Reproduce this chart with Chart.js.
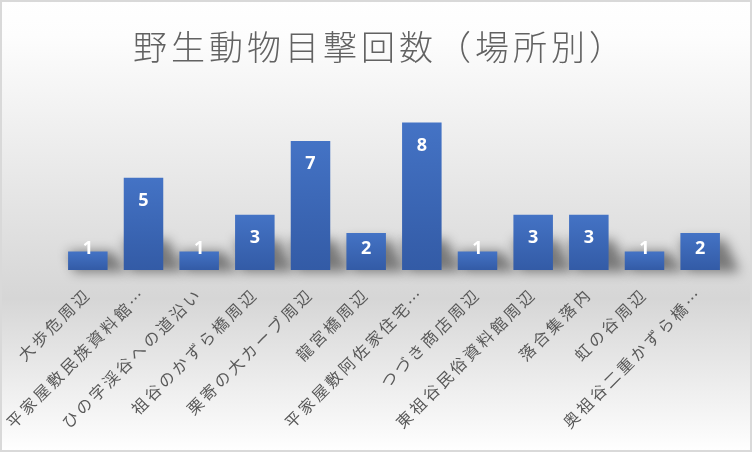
<!DOCTYPE html>
<html>
<head>
<meta charset="utf-8">
<script src="https://cdn.jsdelivr.net/npm/chart.js@4/dist/chart.umd.min.js"></script>
<style>
  body { margin: 0; background: #fff; }
  #wrap { width: 752px; height: 452px; }
</style>
</head>
<body>
<div id="wrap"><canvas id="sightChart" width="752" height="452"></canvas></div>
<script>
  const chartTitle = '野生動物目撃回数（場所別）';
  const places = [
    '大歩危周辺', '平家屋敷民族資料館…', 'ひの字渓谷への道沿い', '祖谷のかずら橋周辺',
    '栗寄の大カーブ周辺', '龍宮橋周辺', '平家屋敷阿佐家住宅…', 'つづき商店周辺',
    '東祖谷民俗資料館周辺', '落合集落内', '虹の谷周辺', '奥祖谷二重かずら橋…'
  ];
  const sightings = [1, 5, 1, 3, 7, 2, 8, 1, 3, 3, 1, 2];

  const jpFont = "'Noto Sans CJK JP', 'Noto Sans', sans-serif";

  // background gradient, frame and title
  const backdrop = {
    id: 'backdrop',
    beforeDraw(chart) {
      const ctx = chart.ctx;
      const w = chart.width, h = chart.height;
      ctx.save();
      const g = ctx.createLinearGradient(0, 0, 0, h);
      g.addColorStop(0, '#ffffff');
      g.addColorStop(0.08, '#fdfdfd');
      g.addColorStop(0.66, '#d6d6d6');
      g.addColorStop(1, '#ffffff');
      ctx.fillStyle = g;
      ctx.fillRect(0, 0, w, h);
      ctx.strokeStyle = '#d9d9d9';
      ctx.lineWidth = 2;
      ctx.strokeRect(1, 1, w - 2, h - 2);

      ctx.font = '300 34px ' + jpFont;
      ctx.letterSpacing = '4px';
      ctx.fillStyle = '#626262';
      ctx.textAlign = 'center';
      ctx.textBaseline = 'middle';
      ctx.fillText(chartTitle, 380, 47);
      ctx.restore();
      // spacing for the tick labels
      ctx.letterSpacing = '3px';
    },
    afterDraw(chart) {
      chart.ctx.letterSpacing = '0px';
    }
  };

  // soft shadow at the foot of each bar
  const barShadow = {
    id: 'barShadow',
    beforeDatasetsDraw(chart) {
      const ctx = chart.ctx;
      const meta = chart.getDatasetMeta(0);
      ctx.save();
      ctx.filter = 'blur(6px)';
      ctx.fillStyle = 'rgba(0,0,0,0.45)';
      meta.data.forEach(bar => {
        const left = bar.x - bar.width / 2;
        const right = bar.x + bar.width / 2;
        const top = Math.max(bar.y, bar.base - 30);
        ctx.beginPath();
        ctx.moveTo(left + 6, bar.base + 2);
        ctx.lineTo(right + 20, bar.base + 2);
        ctx.lineTo(right + 5, top);
        ctx.lineTo(left, top);
        ctx.closePath();
        ctx.fill();
      });
      ctx.restore();
    }
  };

  // value labels inside the bar ends
  const valueLabels = {
    id: 'valueLabels',
    afterDatasetsDraw(chart) {
      const ctx = chart.ctx;
      const meta = chart.getDatasetMeta(0);
      ctx.save();
      ctx.letterSpacing = '0px';
      ctx.font = "bold 18px 'Noto Sans', 'DejaVu Sans', sans-serif";
      ctx.fillStyle = '#ffffff';
      ctx.textAlign = 'center';
      ctx.textBaseline = 'middle';
      meta.data.forEach((bar, i) => {
        const cy = Math.min(bar.y + 23, bar.base - 21);
        ctx.fillText(String(sightings[i]), bar.x, cy);
      });
      ctx.restore();
    }
  };

  function barFill(context) {
    const chart = context.chart;
    const yScale = chart.scales.y;
    if (!yScale || context.dataIndex === undefined) return '#4472c4';
    const top = yScale.getPixelForValue(sightings[context.dataIndex]);
    const bottom = yScale.getPixelForValue(0);
    if (!isFinite(top) || !isFinite(bottom) || top === bottom) return '#4472c4';
    const g = chart.ctx.createLinearGradient(0, top, 0, bottom);
    g.addColorStop(0, '#4473c5');
    g.addColorStop(1, '#335ba6');
    return g;
  }

  const ctx = document.getElementById('sightChart').getContext('2d');
  const sightChart = new Chart(ctx, {
    type: 'bar',
    data: {
      labels: places,
      datasets: [{
        label: '目撃回数',
        data: sightings,
        backgroundColor: barFill,
        borderWidth: 0,
        barPercentage: 0.71,
        categoryPercentage: 1
      }]
    },
    options: {
      responsive: false,
      animation: false,
      devicePixelRatio: 1,
      layout: { padding: { left: 60, right: 24, top: 104, bottom: 0 } },
      plugins: {
        legend: { display: false },
        title: { display: false },
        tooltip: { enabled: false }
      },
      scales: {
        x: {
          grid: { display: false },
          border: { display: false },
          ticks: {
            autoSkip: false,
            maxRotation: 45,
            minRotation: 45,
            padding: 6,
            color: '#595959',
            font: { family: jpFont, size: 16 }
          },
          afterFit(scale) {
            scale.height = 182;
            scale.paddingLeft = 0;
            scale.paddingRight = 0;
          }
        },
        y: {
          display: false,
          min: 0,
          max: 9
        }
      }
    },
    plugins: [backdrop, barShadow, valueLabels]
  });
</script>
</body>
</html>
